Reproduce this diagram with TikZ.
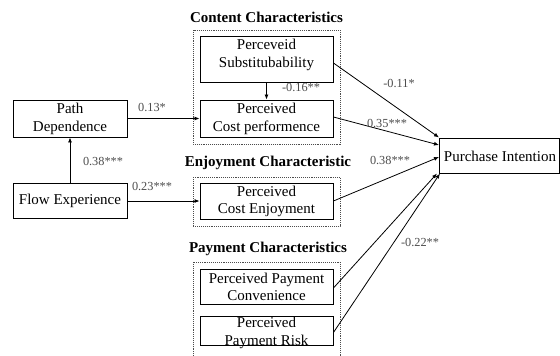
\documentclass[tikz,border=0pt]{standalone}
\usepackage{fontspec}
\setmainfont{Liberation Serif}
\usetikzlibrary{arrows.meta}
\begin{document}
\begin{tikzpicture}[x=1pt,y=-1pt,
  box/.style={draw=black, line width=0.9pt, inner sep=0pt},
  txt/.style={inner sep=0pt, align=center, font=\fontsize{15}{17.5}\selectfont},
  ttl/.style={inner sep=0pt, font=\fontsize{15}{17.5}\selectfont\bfseries},
  grp/.style={draw=black!70, densely dotted, line width=0.9pt},
  coef/.style={inner sep=0pt, text=black!70, font=\fontsize{12.3}{14}\selectfont},
  arr/.style={draw=black, line width=0.8pt, -{Latex[length=5pt,width=4pt]}}]
\useasboundingbox (0,0) rectangle (560,356);
% group boxes
\draw[grp] (193,30) rectangle (340,144);
\draw[grp] (193,177) rectangle (340,226);
\draw[grp] (193,262) rectangle (340,362);
% titles
\node[ttl] (t1) at (266.5,17) {Content Characteristics};
\node[ttl] (t2) at (268,163) {Enjoyment Characteristic};
\node[ttl] (t3) at (268,249) {Payment Characteristics};
% boxes
\node[box, minimum width=114, minimum height=37] (pd) at (70,118.5) {};
\node[txt] (pdT) at (70,119) {Path\\Dependence};
\node[box, minimum width=114, minimum height=35] (fe) at (70,200.5) {};
\node[txt] (feT) at (70,201) {Flow Experience};
\node[box, minimum width=133, minimum height=46] (sub) at (266.5,59) {};
\node[txt] (subT) at (266.5,55) {Perceveid\\Substitubability};
\node[box, minimum width=133, minimum height=37] (cp) at (266.5,118.5) {};
\node[txt] (cpT) at (266.5,119) {Perceived\\Cost performence};
\node[box, minimum width=133, minimum height=36] (ce) at (266.5,201) {};
\node[txt] (ceT) at (266.5,201.5) {Perceived\\Cost Enjoyment};
\node[box, minimum width=133, minimum height=35] (pc) at (266.5,286.5) {};
\node[txt] (pcT) at (266.5,287) {Perceived Payment\\Convenience};
\node[box, minimum width=133, minimum height=29] (pr) at (266.5,330.5) {};
\node[txt] (prT) at (266.5,333) {Perceived\\Payment Risk};
\node[box, minimum width=120, minimum height=35] (pi) at (499,155.5) {};
\node[txt] (piT) at (500,156) {Purchase Intention};
% target points on Purchase Intention
\coordinate (e1) at (439,137.5);
\coordinate (e2) at (439,145);
\coordinate (e3) at (439,157);
\coordinate (e4) at (437,173.5);
\coordinate (e5) at (440,173.5);
% connectors
\draw[arr] (pd.east) -- (cp.west);
\draw[arr] (fe.east |- ce.west) -- (ce.west);
\draw[arr] (fe.north) -- (pd.south);
\draw[arr] (sub.south) -- (cp.north);
\draw[arr] ([yshift=-4pt]sub.east) -- (e1);
\draw[arr] ([yshift=1.5pt]cp.east) -- (e2);
\draw[arr] (ce.east) -- (e3);
\draw[arr] ([yshift=-1.5pt]pc.east) -- (e4);
\draw[arr] ([yshift=-2pt]pr.east) -- (e5);
% coefficients
\node[coef] (c1) at (152,107) {0.13*};
\node[coef] (c2) at (301,87) {-0.16**};
\node[coef] (c3) at (103,161) {0.38***};
\node[coef] (c4) at (152,186) {0.23***};
\node[coef] (c5) at (399,83) {-0.11*};
\node[coef] (c6) at (387,123) {0.35***};
\node[coef] (c7) at (390,160) {0.38***};
\node[coef] (c8) at (420,242) {-0.22**};
\end{tikzpicture}
\end{document}
